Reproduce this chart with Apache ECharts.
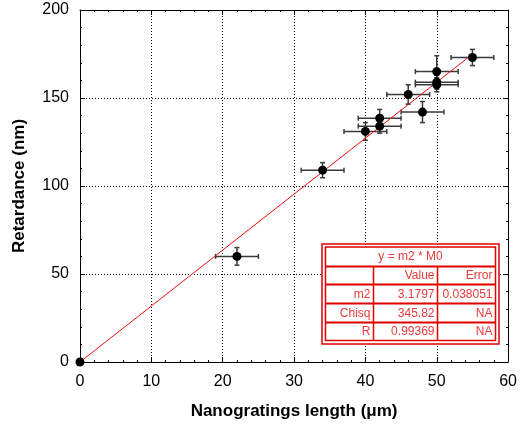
<!DOCTYPE html>
<html><head><meta charset="utf-8">
<script src="https://cdn.jsdelivr.net/npm/echarts@6/dist/echarts.min.js"></script>
<style>html,body{margin:0;padding:0;background:#fff}#c{width:520px;height:425px}</style>
</head><body><div id="c"></div>
<script>
// ---- data ----
const lengths       = [0, 22, 34, 40, 42, 42, 46, 48, 50, 50, 50, 55];
const retardance    = [0, 60, 109, 131, 134, 138.5, 152, 142, 165, 159, 157.5, 173];
const lengthErr     = [0, 3, 3, 3, 3, 3, 3, 3, 3, 3, 3, 3];
const retardanceErr = [0, 5, 4.3, 5, 4, 5, 5.5, 6, 9, 4, 4, 4.6];
const slope = 3.1797;
const fitRange = [0, 55];
const xTicks = [0, 10, 20, 30, 40, 50, 60];
const yTicks = [0, 50, 100, 150, 200];
const tableTitle = 'y = m2 * M0';
const tableHeader = ['', 'Value', 'Error'];
const tableRows = [['m2', '3.1797', '0.038051'], ['Chisq', '345.82', 'NA'], ['R', '0.99369', 'NA']];

// ---- build ----
const pts = lengths.map((x, i) => [x, retardance[i], lengthErr[i], retardanceErr[i]]);
const fitLine = fitRange.map(x => [x, slope * x]);

const FONT = 'Liberation Sans, Arial, sans-serif';
const RED = '#e00000';
const TRED = '#e83a3a';

// table geometry (layout only)
const T = {x: 322, y: 244, w: 177, h: 100};
const I = {x: 325.5, y: 247, w: 170, h: 93.5};
const rowY = [247, 266.5, 284.5, 303.5, 322.5, 340.5];
const colX = [325.5, 373.5, 437.5, 495.5];
const graphics = [];
graphics.push({type: 'rect', z: 100, shape: {x: T.x, y: T.y, width: T.w, height: T.h}, style: {fill: '#fff', stroke: RED, lineWidth: 1.5}});
graphics.push({type: 'rect', z: 100, shape: {x: I.x, y: I.y, width: I.w, height: I.h}, style: {fill: 'none', stroke: RED, lineWidth: 1.5}});
for (let r = 1; r < rowY.length - 1; r++) {
  graphics.push({type: 'line', z: 100, shape: {x1: I.x, y1: rowY[r], x2: I.x + I.w, y2: rowY[r]}, style: {stroke: RED, lineWidth: 2.2}});
}
for (let c = 1; c < colX.length - 1; c++) {
  graphics.push({type: 'line', z: 100, shape: {x1: colX[c], y1: rowY[1], x2: colX[c], y2: rowY[rowY.length - 1]}, style: {stroke: RED, lineWidth: 1.5}});
}
graphics.push({type: 'text', z: 101, x: (I.x + I.x + I.w) / 2, y: (rowY[0] + rowY[1]) / 2,
  style: {text: tableTitle, fill: TRED, font: '12px ' + FONT, align: 'center', verticalAlign: 'middle'}});
const allRows = [tableHeader].concat(tableRows);
allRows.forEach((row, r) => {
  row.forEach((cell, c) => {
    if (!cell) return;
    graphics.push({type: 'text', z: 101, x: colX[c + 1] - 3, y: (rowY[r + 1] + rowY[r + 2]) / 2 + 0.5,
      style: {text: cell, fill: TRED, font: '12px ' + FONT, align: 'right', verticalAlign: 'middle'}});
  });
});

const axisCommon = {
  axisLine: {show: true, onZero: false, lineStyle: {color: '#000', width: 1}},
  axisTick: {show: true, inside: true, length: 5, lineStyle: {color: '#000'}},
  minorTick: {show: true, splitNumber: 5, length: 2, lineStyle: {color: '#000'}},
};

const chart = echarts.init(document.getElementById('c'), null, {renderer: 'canvas'});
chart.setOption({
  animation: false,
  backgroundColor: '#fff',
  grid: {left: 80, right: 8, top: 10, bottom: 63},
  xAxis: [
    Object.assign({
      type: 'value', min: xTicks[0], max: xTicks[xTicks.length - 1], interval: 10, position: 'bottom',
      name: 'Nanogratings length (μm)', nameLocation: 'middle', nameGap: 41,
      nameTextStyle: {fontFamily: FONT, fontSize: 17, fontWeight: 'bold', color: '#000'},
      axisLabel: {fontFamily: FONT, fontSize: 16, color: '#000', margin: 12},
      splitLine: {show: true, lineStyle: {color: '#000', type: [1, 2], width: 1}},
    }, axisCommon),
    Object.assign({
      type: 'value', min: xTicks[0], max: xTicks[xTicks.length - 1], interval: 10, position: 'top',
      axisLabel: {show: false}, splitLine: {show: false},
    }, axisCommon)
  ],
  yAxis: [
    Object.assign({
      type: 'value', min: yTicks[0], max: yTicks[yTicks.length - 1], interval: 50, position: 'left',
      name: 'Retardance (nm)', nameLocation: 'middle', nameGap: 52,
      nameTextStyle: {fontFamily: FONT, fontSize: 17, fontWeight: 'bold', color: '#000'},
      axisLabel: {fontFamily: FONT, fontSize: 16, color: '#000', margin: 11},
      splitLine: {show: true, lineStyle: {color: '#000', type: [1, 2], width: 1}},
    }, axisCommon),
    Object.assign({
      type: 'value', min: yTicks[0], max: yTicks[yTicks.length - 1], interval: 50, position: 'right',
      axisLabel: {show: false}, splitLine: {show: false},
    }, axisCommon)
  ],
  series: [
    {
      type: 'custom', name: 'errors', z: 3,
      data: pts,
      encode: {x: 0, y: 1},
      renderItem: function (params, api) {
        const x = api.value(0), y = api.value(1), ex = api.value(2), ey = api.value(3);
        if (!ex && !ey) return null;
        const l = api.coord([x - ex, y]), r = api.coord([x + ex, y]);
        const t = api.coord([x, y + ey]), b = api.coord([x, y - ey]);
        const cap = 2.5;
        const st = {stroke: '#3a3a3a', lineWidth: 1.5};
        return {type: 'group', children: [
          {type: 'line', shape: {x1: l[0], y1: l[1], x2: r[0], y2: r[1]}, style: st},
          {type: 'line', shape: {x1: l[0], y1: l[1] - cap, x2: l[0], y2: l[1] + cap}, style: st},
          {type: 'line', shape: {x1: r[0], y1: r[1] - cap, x2: r[0], y2: r[1] + cap}, style: st},
          {type: 'line', shape: {x1: t[0], y1: t[1], x2: b[0], y2: b[1]}, style: st},
          {type: 'line', shape: {x1: t[0] - cap, y1: t[1], x2: t[0] + cap, y2: t[1]}, style: st},
          {type: 'line', shape: {x1: b[0] - cap, y1: b[1], x2: b[0] + cap, y2: b[1]}, style: st}
        ]};
      }
    },
    {
      type: 'line', name: 'fit', z: 4, data: fitLine, symbol: 'none',
      lineStyle: {color: '#e81010', width: 1}
    },
    {
      type: 'scatter', name: 'data', z: 5, data: pts.map(p => [p[0], p[1]]),
      symbol: 'circle', symbolSize: 9, itemStyle: {color: '#000', opacity: 1}
    }
  ],
  graphic: graphics
});
</script>
</body></html>
